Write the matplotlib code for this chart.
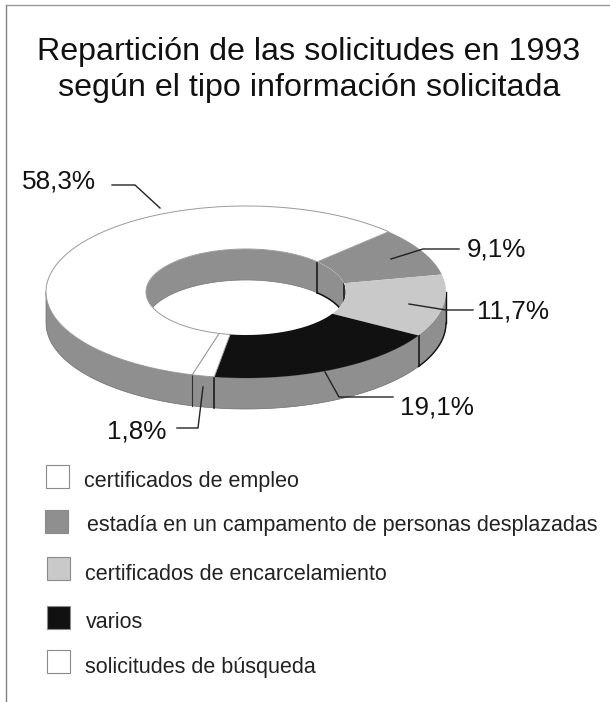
import numpy as np
import matplotlib
matplotlib.use("Agg")
import matplotlib.pyplot as plt
from matplotlib.patches import Ellipse, Polygon, Rectangle

# ==========================================================
# Data
# ==========================================================

title = "Repartición de las solicitudes en 1993\nsegún el tipo información solicitada"

# clockwise from the upper right edge of the big white slice
shares = [9.1, 11.7, 19.1, 1.8, 58.3]
share_labels = ["9,1%", "11,7%", "19,1%", "1,8%", "58,3%"]
slice_colors = ["#8f8f8f", "#c9c9c9", "#111111", "#ffffff", "#ffffff"]

legend_labels = [
    "certificados de empleo",
    "estadía en un campamento de personas desplazadas",
    "certificados de encarcelamiento",
    "varios",
    "solicitudes de búsqueda",
]
legend_colors = ["#ffffff", "#8f8f8f", "#c9c9c9", "#111111", "#ffffff"]

# ==========================================================
# Layout (pixels)
# ==========================================================

CX, CY = 246, 292
A_OUT, B_OUT = 200, 86
A_IN, B_IN = 100, 43
DEPTH = 31
START = 44.5
WALL = "#8f8f8f"
FONT = ["Liberation Sans", "DejaVu Sans"]

legend_boxes = [(46, 465), (45, 510), (47, 557), (47, 606), (47, 650)]
legend_text = [(84, 481), (87, 526), (85, 574), (86, 623), (85, 667)]

label_pos = [(467, 249), (477, 312), (400, 408), (107, 432), (22, 181)]
leaders = [
    [(391, 259), (423, 249), (459, 249)],
    [(409, 304), (446, 310), (473, 310)],
    [(325, 372), (339, 397), (393, 397)],
    [(203, 387), (198, 428), (177, 428)],
    [(112, 185), (135, 185), (160, 208)],
]

fig = plt.figure(figsize=(6.10, 7.02), dpi=100)
ax = fig.add_axes([0, 0, 1, 1])
ax.set_xlim(0, 610)
ax.set_ylim(702, 0)
ax.axis("off")


def arc(a, b, t0, t1, dy=0):
    t = np.radians(np.linspace(t0, t1, 120))
    return np.column_stack([CX + a * np.cos(t), CY + dy - b * np.sin(t)])


# slice boundaries in degrees, going clockwise
edges = START - np.cumsum([0] + shares) * 3.6

# ==========================================================
# Inner wall, seen through the hole
# ==========================================================

hole = Ellipse((CX, CY), 2 * A_IN, 2 * B_IN, transform=ax.transData, fill=False, lw=0)
ax.add_patch(hole)
top = arc(A_IN, B_IN, 0, 180)
low = arc(A_IN, B_IN, 180, 0, DEPTH)
wall = Polygon(np.vstack([top, low]), fc=WALL, ec="none", zorder=2)
ax.add_patch(wall)
wall.set_clip_path(hole)
for e in edges[:2]:
    p = arc(A_IN, B_IN, e, e + 1e-6)[0]
    ln, = ax.plot([p[0], p[0]], [p[1], p[1] + DEPTH], color="#111111", lw=1.1, zorder=3)
    ln.set_clip_path(hole)
low_edge, = ax.plot(*arc(A_IN, B_IN, edges[1], edges[0], DEPTH).T, color="#111111", lw=1.1, zorder=3)
low_edge.set_clip_path(hole)
rim, = ax.plot(*arc(A_IN, B_IN, 180, 0, DEPTH).T, color="#777777", lw=0.5, zorder=2.5)
rim.set_clip_path(hole)

# ==========================================================
# Outer wall
# ==========================================================

front = arc(A_OUT, B_OUT, 180, 360)
ax.add_patch(Polygon(np.vstack([front, front[::-1] + [0, DEPTH]]), fc=WALL, ec="#6e6e6e", lw=0.5, zorder=4))
for e in edges[2:4]:
    p = arc(A_OUT, B_OUT, e, e + 1e-6)[0]
    ax.plot([p[0], p[0]], [p[1], p[1] + DEPTH], color="#111111", lw=1.1, zorder=5)
p = arc(A_OUT, B_OUT, edges[4], edges[4] + 1e-6)[0]
ax.plot([p[0], p[0]], [p[1], p[1] + DEPTH], color="#333333", lw=0.8, zorder=5)
ax.plot(*arc(A_OUT, B_OUT, 0, edges[2], DEPTH).T, color="#111111", lw=1.0, zorder=5)
ax.plot([CX + A_OUT, CX + A_OUT], [CY, CY + DEPTH], color="#111111", lw=1.0, zorder=5)

# ==========================================================
# Top surface slices
# ==========================================================

for i, share in enumerate(shares):
    outer = arc(A_OUT, B_OUT, edges[i], edges[i + 1])
    inner = arc(A_IN, B_IN, edges[i + 1], edges[i])
    ec = "#9a9a9a" if slice_colors[i] == "#ffffff" else "none"
    ax.add_patch(Polygon(np.vstack([outer, inner]), fc=slice_colors[i], ec=ec, lw=0.7, zorder=6))

# ==========================================================
# Labels and leader lines
# ==========================================================

for label, pos, pts in zip(share_labels, label_pos, leaders):
    ax.text(pos[0], pos[1], label, fontsize=18.8, family=FONT, ha="left", va="center", color="#111111", zorder=9)
    xs, ys = zip(*pts)
    ax.plot(xs, ys, color="#222222", lw=1.0, zorder=8)

ax.text(309, 70, title, fontsize=23.2, family=FONT, ha="center", va="center", linespacing=1.24, color="#111111")

# ==========================================================
# Legend
# ==========================================================

for label, color, box, pos in zip(legend_labels, legend_colors, legend_boxes, legend_text):
    ax.add_patch(Rectangle(box, 23, 23, fc=color, ec="#8a8a8a", lw=0.8))
    ax.text(pos[0], pos[1], label, fontsize=15.5, family=FONT, ha="left", va="center", color="#222222")

# ==========================================================
# Frame
# ==========================================================

ax.plot([6, 6], [5, 702], color="#808080", lw=1.0)
ax.plot([6, 610], [5, 5], color="#999999", lw=1.0)

fig.savefig("out.png", dpi=100)
